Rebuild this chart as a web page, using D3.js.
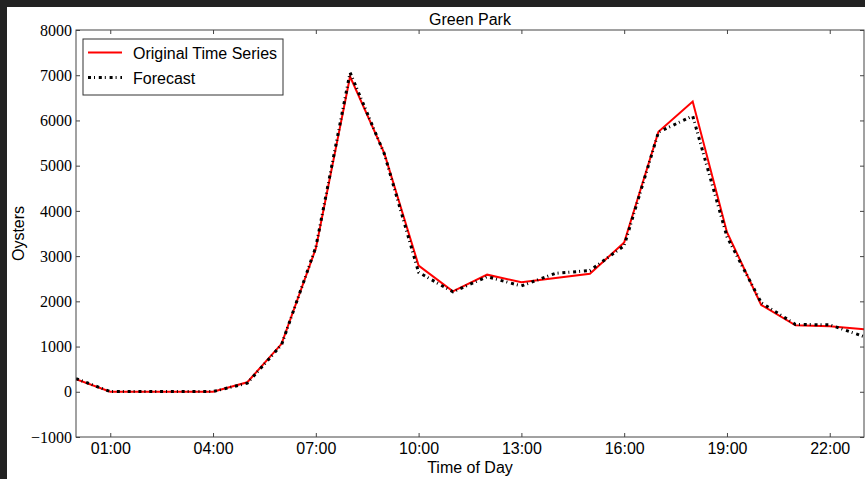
<!DOCTYPE html>
<html>
<head>
<meta charset="utf-8">
<script src="https://cdn.jsdelivr.net/npm/d3@7"></script>
<style>
  html, body { margin: 0; padding: 0; background: #ffffff; }
  svg { display: block; }
  .serif-tick text { font-family: "Liberation Serif", "Times New Roman", serif !important; }
</style>
</head>
<body>
<svg id="chart" width="865" height="479"></svg>
<script>
// Hour of day for each observation
const hours = [0, 1, 2, 3, 4, 5, 6, 7, 8, 9, 10, 11, 12, 13, 14, 15, 16, 17, 18, 19, 20, 21, 22, 23];
// Observed tap-ins per hour
const original = [280, 0, 0, 0, 0, 210, 1060, 3170, 6970, 5270, 2790, 2220, 2590, 2420, 2515, 2610, 3300, 5750, 6420, 3530, 1920, 1470, 1450, 1380];
// Model forecast per hour
const forecast = [290, 5, 5, 5, 5, 190, 1040, 3200, 7060, 5260, 2640, 2210, 2545, 2340, 2620, 2680, 3230, 5740, 6100, 3430, 1970, 1490, 1480, 1220];
// Axis ticks
const xTicks = [1, 4, 7, 10, 13, 16, 19, 22];
const xTickLabels = ["01:00", "04:00", "07:00", "10:00", "13:00", "16:00", "19:00", "22:00"];
const yTicks = [-1000, 0, 1000, 2000, 3000, 4000, 5000, 6000, 7000, 8000];

const svg = d3.select("#chart");
const W = 865, H = 479;
const plotLeft = 76, plotRight = 864, plotTop = 30, plotBottom = 437;

// dark window frame on top and left
svg.append("rect").attr("x", 0).attr("y", 0).attr("width", W).attr("height", 7).attr("fill", "#222222");
svg.append("rect").attr("x", 0).attr("y", 0).attr("width", 7).attr("height", H).attr("fill", "#222222");

const x = d3.scaleLinear().domain([0, 23]).range([plotLeft, plotRight]);
const y = d3.scaleLinear().domain([-1000, 8000]).range([plotBottom, plotTop]);

const sans = "'Liberation Sans', Arial, sans-serif";

svg.append("defs").append("clipPath").attr("id", "plotclip")
  .append("rect").attr("x", plotLeft).attr("y", plotTop)
  .attr("width", plotRight - plotLeft).attr("height", plotBottom - plotTop);

// series
const line = d3.line().x((d, i) => x(hours[i])).y(d => y(d));
const plot = svg.append("g").attr("clip-path", "url(#plotclip)");
plot.append("path").datum(original).attr("d", line)
  .attr("fill", "none").attr("stroke", "#ff0000").attr("stroke-width", 2);
plot.append("path").datum(forecast).attr("d", line)
  .attr("fill", "none").attr("stroke", "#000000").attr("stroke-width", 3)
  .attr("stroke-dasharray", "3,3,1,3.8");

// axes with inward ticks
function styleAxis(g) {
  g.select(".domain").remove();
  g.selectAll(".tick line").attr("stroke", "#444").attr("stroke-width", 1);
}
svg.append("g").attr("transform", `translate(0,${plotBottom})`)
  .call(d3.axisBottom(x).tickValues(xTicks).tickSizeInner(-4).tickSizeOuter(0).tickPadding(6)
    .tickFormat((d, i) => xTickLabels[i]))
  .call(styleAxis)
  .call(g => g.selectAll("text").style("font-family", sans).style("font-size", "16px").attr("fill", "#000"));
svg.append("g").attr("transform", `translate(0,${plotTop})`)
  .call(d3.axisTop(x).tickValues(xTicks).tickSizeInner(-4).tickSizeOuter(0).tickFormat(""))
  .call(styleAxis);
svg.append("g").attr("class", "serif-tick").attr("transform", `translate(${plotLeft},0)`)
  .call(d3.axisLeft(y).tickValues(yTicks).tickSizeInner(-4).tickSizeOuter(0).tickPadding(4)
    .tickFormat(d => d < 0 ? "\u2212" + Math.abs(d) : String(d)))
  .call(styleAxis)
  .call(g => g.selectAll("text").style("font-size", "16px").attr("fill", "#000"));
svg.append("g").attr("transform", `translate(${plotRight},0)`)
  .call(d3.axisRight(y).tickValues(yTicks).tickSizeInner(-4).tickSizeOuter(0).tickFormat(""))
  .call(styleAxis);

// frame
svg.append("rect").attr("x", plotLeft).attr("y", plotTop)
  .attr("width", plotRight - plotLeft).attr("height", plotBottom - plotTop)
  .attr("fill", "none").attr("stroke", "#444").attr("stroke-width", 1);

// title and axis labels
svg.append("text").attr("x", (plotLeft + plotRight) / 2).attr("y", 25).attr("text-anchor", "middle")
  .style("font-family", sans).style("font-size", "16px").text("Green Park");
svg.append("text").attr("x", (plotLeft + plotRight) / 2).attr("y", 473).attr("text-anchor", "middle")
  .style("font-family", sans).style("font-size", "16px").text("Time of Day");
svg.append("text").attr("transform", `translate(24,${(plotTop + plotBottom) / 2}) rotate(-90)`)
  .attr("text-anchor", "middle").style("font-family", sans).style("font-size", "16px").text("Oysters");

// legend
const lg = svg.append("g");
lg.append("rect").attr("x", 83).attr("y", 39).attr("width", 200).attr("height", 56)
  .attr("fill", "#fff").attr("stroke", "#333").attr("stroke-width", 1);
lg.append("line").attr("x1", 88).attr("x2", 122).attr("y1", 52.5).attr("y2", 52.5)
  .attr("stroke", "#ff0000").attr("stroke-width", 2);
lg.append("line").attr("x1", 88).attr("x2", 122).attr("y1", 77.5).attr("y2", 77.5)
  .attr("stroke", "#000").attr("stroke-width", 3).attr("stroke-dasharray", "3,3,1,3.8");
lg.append("text").attr("x", 133).attr("y", 58.5).style("font-family", sans).style("font-size", "16px").text("Original Time Series");
lg.append("text").attr("x", 133).attr("y", 83.5).style("font-family", sans).style("font-size", "16px").text("Forecast");
</script>
</body>
</html>
